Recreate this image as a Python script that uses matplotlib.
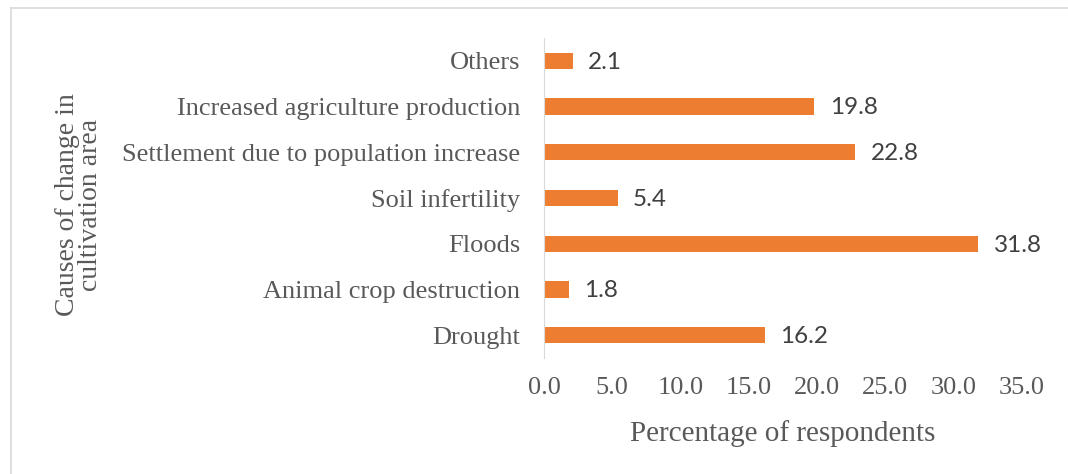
"""
Causes of change in cultivation area - horizontal bar chart.
"""
import matplotlib.pyplot as plt
from matplotlib.lines import Line2D

causes = [
    "Drought",
    "Animal crop destruction",
    "Floods",
    "Soil infertility",
    "Settlement due to population increase",
    "Increased agriculture production",
    "Others",
]
percent = [16.2, 1.8, 31.8, 5.4, 22.8, 19.8, 2.1]
xticks = [0, 5, 10, 15, 20, 25, 30, 35]

BAR_COLOR = "#ED7D31"
TEXT_GREY = "#595959"
SERIF = "Liberation Serif"
W, H = 1068, 474

fig = plt.figure(figsize=(W / 100, H / 100), dpi=100)
fig.patch.set_facecolor("white")
ax = fig.add_axes([544 / W, 1 - 358 / H, (1022 - 544) / W, (358 - 38) / H])

y = range(len(causes))
bars = ax.barh(y, percent, height=0.355, color=BAR_COLOR)

for rect, v in zip(bars, percent):
    ax.annotate(f"{v:.1f}", (rect.get_width(), rect.get_y() + rect.get_height() / 2),
                xytext=(11, -1), textcoords="offset points", ha="left", va="center",
                fontsize=17.5, color="#404040", family="Lato")

ax.set_xlim(0, 35)
ax.set_ylim(-0.5, len(causes) - 0.5)
ax.set_yticks(list(y))
ax.set_yticklabels(causes, family=SERIF, fontsize=19, color=TEXT_GREY)
ax.set_xticks(xticks)
ax.set_xticklabels([f"{t:.1f}" for t in xticks], family=SERIF, fontsize=19, color=TEXT_GREY)
ax.tick_params(axis="both", length=0)
ax.tick_params(axis="y", pad=17)
ax.tick_params(axis="x", pad=14)

for side in ["top", "right", "bottom"]:
    ax.spines[side].set_visible(False)
ax.spines["left"].set_color("#d9d9d9")

ax.set_xlabel("Percentage of respondents", family=SERIF, fontsize=21,
              color=TEXT_GREY, labelpad=15)
fig.text(79 / W, 1 - 205 / H, "Causes of change in\ncultivation area", family=SERIF,
         fontsize=20, color=TEXT_GREY, rotation=90, ha="center", va="center",
         linespacing=0.9)

# frame edges along the top and left of the chart area
fig.lines.append(Line2D([11 / W, 11 / W], [0, 1 - 8 / H], transform=fig.transFigure,
                        color="#d9d9d9", linewidth=1.2))
fig.lines.append(Line2D([11 / W, 1], [1 - 8 / H, 1 - 8 / H], transform=fig.transFigure,
                        color="#d9d9d9", linewidth=1.2))

fig.savefig("out.png", dpi=100, facecolor="white")
